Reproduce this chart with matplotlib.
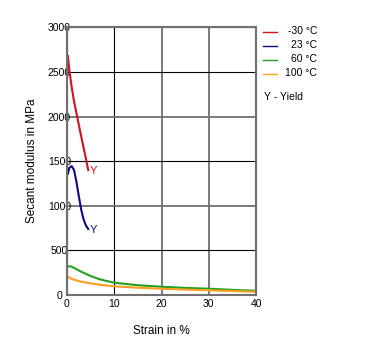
import matplotlib.pyplot as plt

plt.rcParams['font.family'] = ['Liberation Sans', 'DejaVu Sans']

# datos (deformacion %, modulo secante MPa)
x_m30 = [0.2, 0.5, 1.0, 1.5, 2.0, 3.0, 4.0, 4.5]
y_m30 = [2680, 2520, 2330, 2170, 2040, 1780, 1530, 1400]

x_23 = [0.2, 0.5, 1.0, 1.5, 2.0, 2.5, 3.0, 3.5, 4.0, 4.5]
y_23 = [1360, 1425, 1445, 1400, 1270, 1110, 960, 850, 780, 740]

x_60 = [0, 1, 2, 3, 5, 7, 10, 15, 20, 25, 30, 35, 40]
y_60 = [325, 318, 290, 262, 213, 175, 138, 110, 93, 80, 71, 58, 48]

x_100 = [0, 1, 2, 3, 5, 7, 10, 15, 20, 25, 30, 35, 40]
y_100 = [213, 180, 165, 150, 131, 115, 98, 82, 71, 61, 53, 45, 37]

labels = ['-30 °C', '23 °C', '60 °C', '100 °C']
colors = ['#d41020', '#0c0c80', '#20a020', '#ff9f20']

fig = plt.figure(figsize=(3.87, 3.5), dpi=100)
ax = fig.add_axes([0.173, 0.157, 0.489, 0.765])

ax.plot(x_m30, y_m30, color=colors[0], lw=1.5)
ax.plot(x_23, y_23, color=colors[1], lw=1.5)
ax.plot(x_60, y_60, color=colors[2], lw=1.5)
ax.plot(x_100, y_100, color=colors[3], lw=1.5)
ax.text(x_m30[-1] + 0.3, y_m30[-1] - 10, 'Y', color=colors[0], fontsize=8, va='center')
ax.text(x_23[-1] + 0.3, y_23[-1] - 10, 'Y', color=colors[1], fontsize=8, va='center')

ax.set_xlim(0, 40)
ax.set_ylim(0, 3000)
ax.set_xticks([0, 10, 20, 30, 40])
ax.set_yticks([0, 500, 1000, 1500, 2000, 2500, 3000])
ax.grid(True, color='black', lw=0.8)
ax.set_axisbelow(True)
# algunas lineas de rejilla salen grises en el original
for i, gl in enumerate(ax.get_ygridlines()):
    if i in (2, 4):
        gl.set_color('#707070')
        gl.set_linewidth(1.3)
for i, gl in enumerate(ax.get_xgridlines()):
    if i in (2, 3):
        gl.set_color('#707070')
        gl.set_linewidth(1.3)
for s in ax.spines.values():
    s.set_color('#707070')
    s.set_linewidth(1.5)
ax.tick_params(length=0, labelsize=7.5)
ax.tick_params(axis='y', pad=5.5)
ax.tick_params(axis='x', pad=2.5)
for t in ax.get_yticklabels():
    t.set_horizontalalignment('center')
ax.set_xlabel('Strain in %', fontsize=8.5, labelpad=12)
ax.set_ylabel('Secant modulus in MPa', fontsize=8.5, labelpad=7)

# leyenda hecha a mano
for i, (lab, c) in enumerate(zip(labels, colors)):
    yy = 1 - (31.5 + 14 * i) / 350
    fig.add_artist(plt.Line2D([263 / 387, 277 / 387], [yy, yy], color=c, lw=1.0))
    fig.text(317 / 387, yy, lab, fontsize=7.5, ha='right', va='center')
fig.text(264 / 387, 1 - 97 / 350, 'Y - Yield', fontsize=7.5, va='center')

plt.savefig('out.png', dpi=100)
